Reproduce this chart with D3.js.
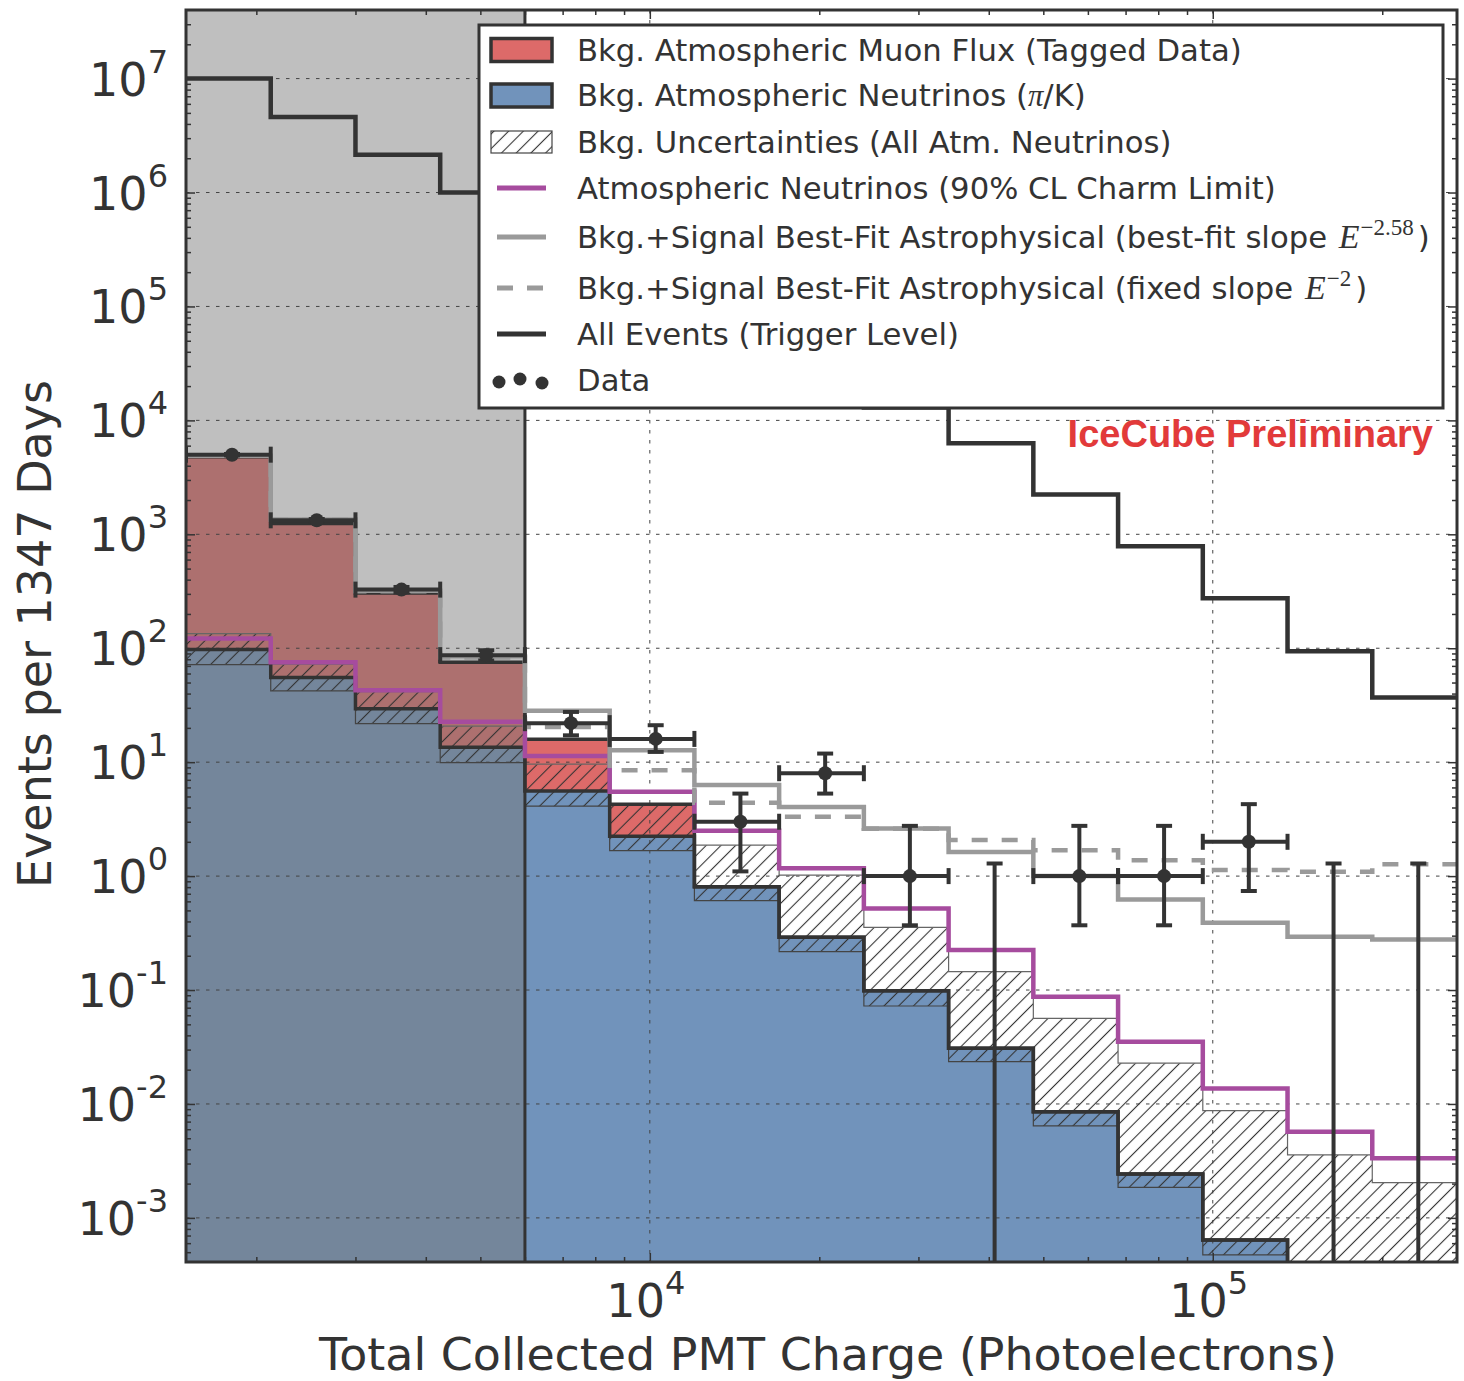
<!DOCTYPE html>
<html>
<head>
<meta charset="utf-8">
<script src="https://cdn.jsdelivr.net/npm/d3@7/dist/d3.min.js"></script>
<style>
  html, body { margin: 0; padding: 0; background: #ffffff; }
  svg { display: block; }
  text { font-family: "DejaVu Sans", sans-serif; fill: #333333; }
</style>
</head>
<body>
<svg id="chart" width="1464" height="1381"></svg>
<script>
// Charge bin edges in photoelectrons (a factor sqrt(2) per bin)
const binEdges = [1500, 2121.3, 3000, 4242.6, 6000, 8485.3, 12000, 16970.6, 24000,
                  33941.1, 48000, 67882.3, 96000, 135764.7, 192000, 271529.4];

// Conventional atmospheric neutrinos (pi/K), events per bin
const atmNuPiK = [97.4, 55.3, 29.4, 13.5, 5.57, 2.24, 0.806, 0.290, 0.0986, 0.0308,
                  0.00856, 0.00243, 0.00064, 0.00018, 0.00005];
// Atmospheric muons from tagged data, stacked on top of pi/K
const atmMuon = [4700, 1187, 276, 62, 10.3, 2.04, 0, 0, 0, 0, 0, 0, 0, 0, 0];
// Uncertainty band for all atmospheric neutrinos
const uncLow = [71.9, 42.2, 21.8, 9.9, 4.11, 1.67, 0.608, 0.217, 0.0724, 0.0235,
                0.00641, 0.00185, 0.000473, 0.00012, 0.00003];
const uncHigh = [134.6, 72.5, 41.5, 20.7, 9.6, 4.25, 1.87, 1.02, 0.355, 0.145,
                 0.0564, 0.0228, 0.00874, 0.00357, 0.00204];
// Atmospheric neutrinos with charm at its 90% CL limit
const charmLimit = [121.6, 75.4, 42.8, 22.6, 11.3, 5.5, 2.5, 1.17, 0.520, 0.224,
                    0.0874, 0.0352, 0.0137, 0.00571, 0.00334];
// Background + astrophysical best fit, free slope
const fitFreeSlope = [4900, 1350, 320, 85, 28.2, 12.7, 6.3, 4.05, 2.62, 1.63,
                      1.0, 0.624, 0.39, 0.294, 0.278];
// Background + astrophysical best fit, slope fixed to 2
const fitFixedSlope = [4890, 1340, 316, 83, 20.4, 8.5, 4.4, 3.31, 2.6, 2.07,
                       1.69, 1.38, 1.13, 1.09, 1.27];
// All events at trigger level
const triggerLevel = [1.0e7, 4.6e6, 2.15e6, 1.0e6, 4.2e5, 1.7e5, 6.8e4, 2.8e4, 1.3e4, 6.3e3,
                      2.24e3, 785, 275, 94, 37];
// Observed events with their 68% intervals
const dataCount = [5000, 1327, 327, 87, 22, 16, 3, 8, 1, 0, 1, 1, 2, 0, 0];
const dataLow   = [4929, 1291, 309, 78, 17.2, 12.3, 1.1, 5.3, 0.37, 0, 0.37, 0.37, 0.74, 0, 0];
const dataHigh  = [5071, 1363, 345, 96, 27.6, 21.1, 5.3, 11.9, 2.76, 1.29, 2.76, 2.76, 4.28, 1.29, 1.29];

// Charge range below the selection threshold (shaded)
const vetoRange = [1500, 6000];

// Axis ticks and their labels (base 10, exponent as superscript)
const xMajorTicks = [1e4, 1e5];
const xTickExponents = ["4", "5"];
const yMajorTicks = [1e-3, 1e-2, 1e-1, 1e0, 1e1, 1e2, 1e3, 1e4, 1e5, 1e6, 1e7];
const yTickExponents = ["-3", "-2", "-1", "0", "1", "2", "3", "4", "5", "6", "7"];

const DARK = "#333333", RED = "#dd6a69", BLUE = "#7193bb", PURPLE = "#a64c9e", GREY = "#9a9a9a";

const X0 = 186, X1 = 1457, Y0 = 10, Y1 = 1262;
const FLOOR = 1e-6;

const svg = d3.select("#chart");
const x = d3.scaleLog().domain([binEdges[0], binEdges[binEdges.length - 1]]).range([X0, X1]);
const y = d3.scaleLog().domain([4.1e-4, 4e7]).range([Y1, Y0]);
const yv = v => y(Math.max(v, FLOOR));

const defs = svg.append("defs");
defs.append("clipPath").attr("id", "plotClip")
  .append("rect").attr("x", X0).attr("y", Y0).attr("width", X1 - X0).attr("height", Y1 - Y0);
const hatch = defs.append("pattern").attr("id", "hatch")
  .attr("patternUnits", "userSpaceOnUse").attr("width", 10.4).attr("height", 10.4)
  .attr("patternTransform", "rotate(45)");
hatch.append("line").attr("x1", 5.2).attr("y1", -1).attr("x2", 5.2).attr("y2", 11.4)
  .attr("stroke", DARK).attr("stroke-width", 1.1);

// histogram helpers: one point per bin edge, drawn as steps
function stepData(vals) {
  const pts = vals.map((v, i) => ({ e: binEdges[i], v }));
  pts.push({ e: binEdges[vals.length], v: vals[vals.length - 1] });
  return pts;
}
function bandData(lo, hi) {
  const pts = lo.map((l, i) => ({ e: binEdges[i], lo: l, hi: hi[i] }));
  pts.push({ e: binEdges[lo.length], lo: lo[lo.length - 1], hi: hi[hi.length - 1] });
  return pts;
}
const stepLine = d3.line().x(d => x(d.e)).y(d => yv(d.v)).curve(d3.curveStepAfter);
const stepBand = d3.area().x(d => x(d.e)).y0(d => yv(d.lo)).y1(d => yv(d.hi)).curve(d3.curveStepAfter);

const plot = svg.append("g").attr("clip-path", "url(#plotClip)");

// stacked backgrounds
const stackTop = atmNuPiK.map((v, i) => v + atmMuon[i]);
plot.append("path").attr("d", stepBand(bandData(atmNuPiK.map(() => FLOOR), atmNuPiK)))
  .attr("fill", BLUE);
plot.append("path").attr("d", stepBand(bandData(atmNuPiK, stackTop)))
  .attr("fill", RED);

// shaded region below threshold
plot.append("rect")
  .attr("x", x(vetoRange[0])).attr("y", Y0)
  .attr("width", x(vetoRange[1]) - x(vetoRange[0])).attr("height", Y1 - Y0)
  .attr("fill", "#777777").attr("fill-opacity", 0.47);

// grid at the decades
const grid = plot.append("g").attr("stroke", "#444").attr("stroke-width", 1)
  .attr("stroke-dasharray", "3.5,6.5");
grid.selectAll("line.h").data(yMajorTicks).join("line").attr("class", "h")
  .attr("x1", X0).attr("x2", X1).attr("y1", d => y(d)).attr("y2", d => y(d));
grid.selectAll("line.v").data(xMajorTicks).join("line").attr("class", "v")
  .attr("y1", Y0).attr("y2", Y1).attr("x1", d => x(d)).attr("x2", d => x(d));

// uncertainty band
const band = bandData(uncLow, uncHigh);
plot.append("path").attr("d", stepBand(band)).attr("fill", "url(#hatch)");
plot.append("path").attr("d", stepLine(stepData(uncHigh)))
  .attr("fill", "none").attr("stroke", "#666").attr("stroke-width", 1.2);
plot.append("path").attr("d", stepLine(stepData(uncLow)))
  .attr("fill", "none").attr("stroke", "#444").attr("stroke-width", 1.2);

// outlines of the stacked histogram
plot.append("path").attr("d", stepLine(stepData(atmNuPiK)))
  .attr("fill", "none").attr("stroke", DARK).attr("stroke-width", 3.5);
plot.append("path").attr("d", stepLine(stepData(stackTop)))
  .attr("fill", "none").attr("stroke", DARK).attr("stroke-width", 3.5);

// threshold edge
plot.append("line").attr("x1", x(vetoRange[1])).attr("x2", x(vetoRange[1]))
  .attr("y1", Y0).attr("y2", Y1).attr("stroke", DARK).attr("stroke-width", 3);

// model curves
plot.append("path").attr("d", stepLine(stepData(charmLimit)))
  .attr("fill", "none").attr("stroke", PURPLE).attr("stroke-width", 4.5);
plot.append("path").attr("d", stepLine(stepData(fitFreeSlope)))
  .attr("fill", "none").attr("stroke", GREY).attr("stroke-width", 4.5);
plot.append("path").attr("d", stepLine(stepData(fitFixedSlope)))
  .attr("fill", "none").attr("stroke", GREY).attr("stroke-width", 4.5)
  .attr("stroke-dasharray", "16,14");
plot.append("path").attr("d", stepLine(stepData(triggerLevel)))
  .attr("fill", "none").attr("stroke", DARK).attr("stroke-width", 4.5);

// observed data, placed at the linear bin centre
const dataG = plot.append("g").attr("stroke", DARK).attr("stroke-width", 4);
const CAP = 8;
dataCount.forEach((n, i) => {
  const xl = x(binEdges[i]), xr = x(binEdges[i + 1]);
  const xc = x((binEdges[i] + binEdges[i + 1]) / 2);
  const yHi = y(dataHigh[i]);
  const yLo = dataLow[i] > 0 ? y(dataLow[i]) : Y1 + 10;
  dataG.append("line").attr("x1", xc).attr("x2", xc).attr("y1", yHi).attr("y2", yLo);
  dataG.append("line").attr("x1", xc - CAP).attr("x2", xc + CAP).attr("y1", yHi).attr("y2", yHi);
  if (dataLow[i] > 0) {
    dataG.append("line").attr("x1", xc - CAP).attr("x2", xc + CAP).attr("y1", yLo).attr("y2", yLo);
  }
  if (n > 0) {
    const yc = y(n);
    dataG.append("line").attr("x1", xl).attr("x2", xr).attr("y1", yc).attr("y2", yc);
    dataG.append("line").attr("x1", xl).attr("x2", xl).attr("y1", yc - CAP).attr("y2", yc + CAP);
    dataG.append("line").attr("x1", xr).attr("x2", xr).attr("y1", yc - CAP).attr("y2", yc + CAP);
    dataG.append("circle").attr("cx", xc).attr("cy", yc).attr("r", 7)
      .attr("fill", DARK).attr("stroke", "none");
  }
});

// frame and ticks
const xMinor = x.ticks().filter(v => !xMajorTicks.includes(v));
const yMinor = [];
for (let d = -4; d <= 7; d++) {
  for (let m = 2; m <= 9; m++) {
    const v = m * Math.pow(10, d);
    if (v > y.domain()[0] && v < y.domain()[1]) yMinor.push(v);
  }
}
function ticks(axisFn, scale, values, size, transform) {
  const g = svg.append("g").attr("transform", transform)
    .call(axisFn(scale).tickValues(values).tickSize(size).tickFormat(""));
  g.select(".domain").remove();
  g.selectAll(".tick line").attr("stroke", DARK).attr("stroke-width", 1.5);
}
ticks(d3.axisBottom, x, xMajorTicks, -9, `translate(0,${Y1})`);
ticks(d3.axisBottom, x, xMinor, -5, `translate(0,${Y1})`);
ticks(d3.axisTop, x, xMajorTicks, -9, `translate(0,${Y0})`);
ticks(d3.axisTop, x, xMinor, -5, `translate(0,${Y0})`);
ticks(d3.axisLeft, y, yMajorTicks, -9, `translate(${X0},0)`);
ticks(d3.axisLeft, y, yMinor, -5, `translate(${X0},0)`);
ticks(d3.axisRight, y, yMajorTicks, -9, `translate(${X1},0)`);
ticks(d3.axisRight, y, yMinor, -5, `translate(${X1},0)`);

svg.append("rect").attr("x", X0).attr("y", Y0).attr("width", X1 - X0).attr("height", Y1 - Y0)
  .attr("fill", "none").attr("stroke", DARK).attr("stroke-width", 3);

// tick labels
yMajorTicks.forEach((v, i) => {
  const t = svg.append("text").attr("x", 168).attr("y", y(v) + 17)
    .attr("text-anchor", "end").attr("font-size", 46);
  t.append("tspan").text("10");
  t.append("tspan").attr("dy", -23).attr("font-size", 32).text(yTickExponents[i]);
});
xMajorTicks.forEach((v, i) => {
  const t = svg.append("text").attr("x", x(v) - 4).attr("y", 1317)
    .attr("text-anchor", "middle").attr("font-size", 46);
  t.append("tspan").text("10");
  t.append("tspan").attr("dy", -23).attr("font-size", 32).text(xTickExponents[i]);
});

// axis titles
svg.append("text").attr("transform", "translate(51,634) rotate(-90)")
  .attr("text-anchor", "middle").attr("font-size", 46).text("Events per 1347 Days");
svg.append("text").attr("x", 828).attr("y", 1370)
  .attr("text-anchor", "middle").attr("font-size", 44.5)
  .attr("textLength", 1018).attr("lengthAdjust", "spacingAndGlyphs")
  .text("Total Collected PMT Charge (Photoelectrons)");

// legend
const leg = svg.append("g");
leg.append("rect").attr("x", 479).attr("y", 25).attr("width", 964).attr("height", 383)
  .attr("fill", "#ffffff").attr("stroke", DARK).attr("stroke-width", 3);
const LX = 577, FS = 30.7;
const rowY = [49.5, 95, 142, 188, 237, 288, 334, 380];
leg.append("rect").attr("x", 491).attr("y", rowY[0] - 11).attr("width", 61).attr("height", 23)
  .attr("fill", RED).attr("stroke", DARK).attr("stroke-width", 3.5);
leg.append("rect").attr("x", 491).attr("y", rowY[1] - 11).attr("width", 61).attr("height", 23)
  .attr("fill", BLUE).attr("stroke", DARK).attr("stroke-width", 3.5);
leg.append("rect").attr("x", 491).attr("y", rowY[2] - 11).attr("width", 61).attr("height", 22)
  .attr("fill", "url(#hatch)").attr("stroke", "#444").attr("stroke-width", 1.2);
leg.append("line").attr("x1", 497).attr("x2", 546).attr("y1", rowY[3]).attr("y2", rowY[3])
  .attr("stroke", PURPLE).attr("stroke-width", 5);
leg.append("line").attr("x1", 497).attr("x2", 546).attr("y1", rowY[4]).attr("y2", rowY[4])
  .attr("stroke", GREY).attr("stroke-width", 5);
leg.append("line").attr("x1", 497).attr("x2", 546).attr("y1", rowY[5]).attr("y2", rowY[5])
  .attr("stroke", GREY).attr("stroke-width", 5).attr("stroke-dasharray", "16,14");
leg.append("line").attr("x1", 497).attr("x2", 546).attr("y1", rowY[6]).attr("y2", rowY[6])
  .attr("stroke", DARK).attr("stroke-width", 5);
[[499, 2], [520, -1], [542, 3]].forEach(([cx, dy]) => {
  leg.append("circle").attr("cx", cx).attr("cy", rowY[7] + dy).attr("r", 6.5).attr("fill", DARK);
});

function legText(i) {
  return leg.append("text").attr("x", LX).attr("y", rowY[i] + 11).attr("font-size", FS);
}
legText(0).text("Bkg. Atmospheric Muon Flux (Tagged Data)");
{
  const t = legText(1);
  t.append("tspan").text("Bkg. Atmospheric Neutrinos (");
  t.append("tspan").style("font-family", "Liberation Serif").style("font-style", "italic").text("π");
  t.append("tspan").text("/K)");
}
legText(2).text("Bkg. Uncertainties (All Atm. Neutrinos)");
legText(3).text("Atmospheric Neutrinos (90% CL Charm Limit)");
function slopeRow(i, prefix, expo) {
  const t = legText(i);
  t.append("tspan").text(prefix);
  t.append("tspan").style("font-family", "Liberation Serif").style("font-style", "italic")
    .attr("font-size", 34).attr("dx", 2).text("E");
  t.append("tspan").style("font-family", "Liberation Serif").attr("font-size", 23)
    .attr("dy", -13).attr("dx", 1).text(expo);
  t.append("tspan").attr("dy", 13).attr("dx", 4).text(")");
}
slopeRow(4, "Bkg.+Signal Best-Fit Astrophysical (best-fit slope ", "−2.58");
slopeRow(5, "Bkg.+Signal Best-Fit Astrophysical (fixed slope ", "−2");
legText(6).text("All Events (Trigger Level)");
legText(7).text("Data");

// watermark
svg.append("text").attr("x", 1433).attr("y", 447).attr("text-anchor", "end")
  .style("font-family", "'Liberation Sans', Arial, sans-serif").style("font-weight", "bold")
  .attr("font-size", 38).style("fill", "#e23a3a").text("IceCube Preliminary");
</script>
</body>
</html>
